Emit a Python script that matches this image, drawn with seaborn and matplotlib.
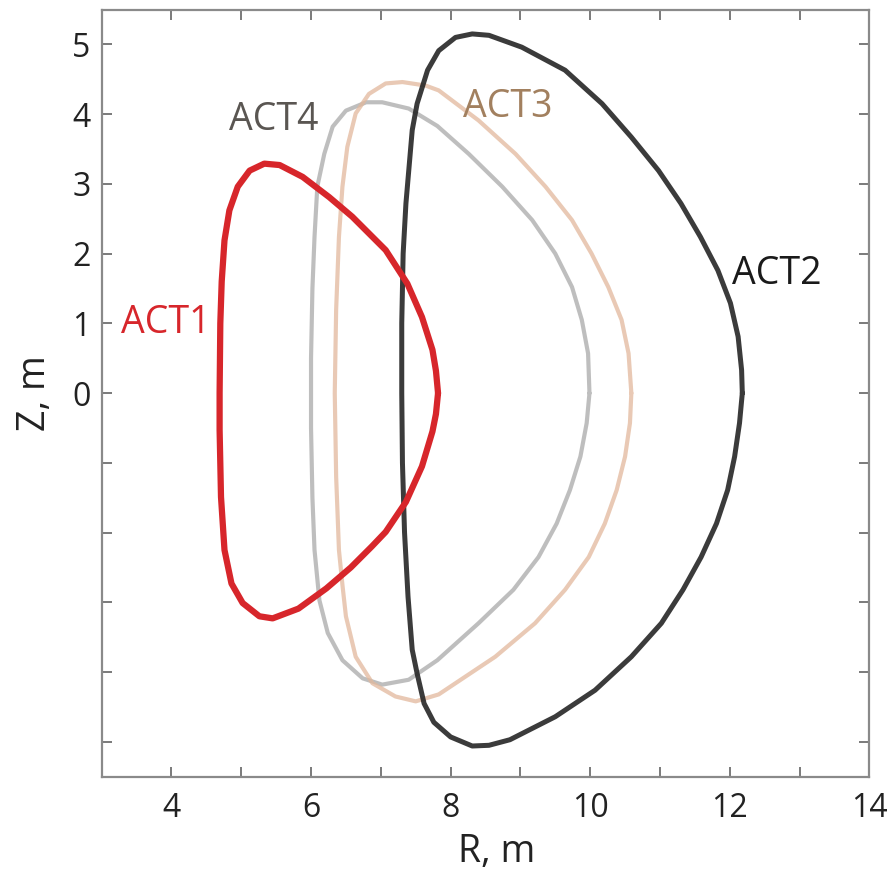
import numpy as np
import pandas as pd
import matplotlib
matplotlib.use("Agg")
import matplotlib.pyplot as plt
import seaborn as sns

# plasma boundaries (R, Z in metres), closed loops,
# going round from the outboard midplane over the top
act1_r = [7.82, 7.79, 7.74, 7.59, 7.38, 7.07, 6.88, 6.59, 6.26, 5.88, 5.55, 5.33, 5.12, 4.95, 4.83,
          4.76, 4.72, 4.70, 4.69, 4.69, 4.71, 4.76, 4.86, 5.02, 5.26, 5.45, 5.82, 6.22, 6.57, 6.87,
          7.07, 7.36, 7.59, 7.74, 7.79, 7.82]
act1_z = [0.00, 0.32, 0.62, 1.09, 1.57, 2.05, 2.24, 2.53, 2.81, 3.10, 3.27, 3.29, 3.19, 2.96, 2.62,
          2.19, 1.60, 1.00, 0.00, -0.53, -1.49, -2.25, -2.73, -3.01, -3.20, -3.23, -3.09, -2.80, -2.50, -2.20,
          -1.99, -1.56, -1.05, -0.55, -0.30, 0.00]

act4_r = [9.99, 9.97, 9.88, 9.74, 9.50, 9.17, 8.74, 8.26, 7.81, 7.40, 7.02, 6.79, 6.50, 6.31, 6.19,
          6.09, 6.05, 6.02, 6.00, 6.00, 6.02, 6.05, 6.12, 6.24, 6.45, 6.74, 7.02, 7.40, 7.81, 8.40,
          8.90, 9.26, 9.52, 9.71, 9.86, 9.95, 9.99]
act4_z = [0.00, 0.57, 1.05, 1.52, 2.00, 2.48, 2.96, 3.43, 3.83, 4.08, 4.17, 4.17, 4.05, 3.82, 3.43,
          2.96, 2.24, 1.50, 0.50, -0.50, -1.50, -2.25, -2.97, -3.44, -3.83, -4.09, -4.18, -4.11, -3.83, -3.30,
          -2.82, -2.35, -1.87, -1.39, -0.91, -0.43, 0.00]

act3_r = [10.59, 10.55, 10.45, 10.26, 10.02, 9.74, 9.36, 8.93, 8.40, 7.83, 7.64, 7.31, 7.07, 6.83,
          6.64, 6.52, 6.45, 6.40, 6.36, 6.34, 6.36, 6.40, 6.45, 6.50, 6.64, 6.88, 7.21, 7.50, 7.83,
          8.64, 9.21, 9.64, 9.98, 10.21, 10.38, 10.50, 10.57, 10.59]
act3_z = [0.00, 0.57, 1.05, 1.52, 2.00, 2.48, 2.96, 3.43, 3.91, 4.34, 4.41, 4.46, 4.44, 4.29,
          4.01, 3.53, 2.96, 2.24, 1.20, 0.00, -1.20, -2.25, -2.75, -3.20, -3.78, -4.16, -4.35, -4.42, -4.32,
          -3.78, -3.30, -2.82, -2.35, -1.87, -1.39, -0.91, -0.43, 0.00]

act2_r = [12.18, 12.17, 12.12, 12.01, 11.83, 11.58, 11.30, 10.98, 10.59, 10.17, 9.64, 9.02, 8.55,
          8.31, 8.07, 7.83, 7.67, 7.52, 7.45, 7.36, 7.32, 7.30, 7.30, 7.31, 7.34, 7.39, 7.45, 7.52,
          7.62, 7.76, 8.00, 8.31, 8.55, 8.85, 9.50, 10.07, 10.59, 11.02, 11.33, 11.59, 11.81, 11.97,
          12.07, 12.14, 12.18]
act2_z = [0.00, 0.33, 0.81, 1.29, 1.76, 2.24, 2.72, 3.19, 3.67, 4.15, 4.63, 4.96, 5.13,
          5.15, 5.10, 4.91, 4.63, 4.15, 3.77, 2.72, 2.00, 1.00, 0.00, -1.00, -2.00, -2.92, -3.68, -4.02,
          -4.45, -4.72, -4.93, -5.06, -5.05, -4.97, -4.64, -4.26, -3.78, -3.30, -2.82, -2.35, -1.87, -1.39,
          -0.91, -0.43, 0.00]

names = ["ACT4", "ACT3", "ACT2", "ACT1"]
line_colors = ["#a9a9a9", "#e2b89c", "#262626", "#d7262b"]
line_alpha = [0.75, 0.75, 0.9, 1.0]
line_widths = [3.0, 3.0, 3.6, 4.5]
label_x = [5.46, 8.82, 12.68, 3.92]
label_y = [3.77, 3.96, 1.57, 0.86]
label_colors = ["#5a5652", "#a2805f", "#1a1a1a", "#d7262b"]

shapes = {"ACT4": (act4_r, act4_z), "ACT3": (act3_r, act3_z),
          "ACT2": (act2_r, act2_z), "ACT1": (act1_r, act1_z)}

sns.set_style("ticks")
plt.rcParams["font.family"] = ["Open Sans", "DejaVu Sans"]

fig = plt.figure(figsize=(8.95, 8.81), dpi=100)
ax = fig.add_axes([0.1136, 0.1184, 0.8577, 0.8708])

for i, name in enumerate(names):
    r, z = shapes[name]
    df = pd.DataFrame({"R": r, "Z": z})
    sns.lineplot(data=df, x="R", y="Z", sort=False, estimator=None, ax=ax,
                 color=line_colors[i], alpha=line_alpha[i], linewidth=line_widths[i],
                 solid_joinstyle="round", solid_capstyle="round")
    ax.text(label_x[i], label_y[i], name, color=label_colors[i], fontsize=27,
            ha="center", va="baseline")

ax.set_xlim(3, 14)
ax.set_ylim(-5.5, 5.5)
ax.set_xticks(np.arange(3, 15, 1))
ax.set_xticklabels(["" if v % 2 else str(v) for v in range(3, 15)])
ax.set_yticks(np.arange(-5, 6, 1))
ax.set_yticklabels(["" if v < 0 else str(v) for v in range(-5, 6)])
ax.tick_params(direction="in", length=7, width=1.4, color="#7a7a7a",
               labelsize=23, top=True, right=True, labelcolor="#222222")
ax.tick_params(axis="y", pad=8)
ax.tick_params(axis="x", pad=11)
for s in ax.spines.values():
    s.set_color("#8a8a8a")
    s.set_linewidth(1.6)

ax.set_xlabel("R, m", fontsize=27, color="#222222")
ax.set_ylabel("Z, m", fontsize=27, color="#222222")
ax.xaxis.set_label_coords(0.515, -0.074)
ax.yaxis.set_label_coords(-0.062, 0.5)

fig.savefig("out.png", dpi=100)
